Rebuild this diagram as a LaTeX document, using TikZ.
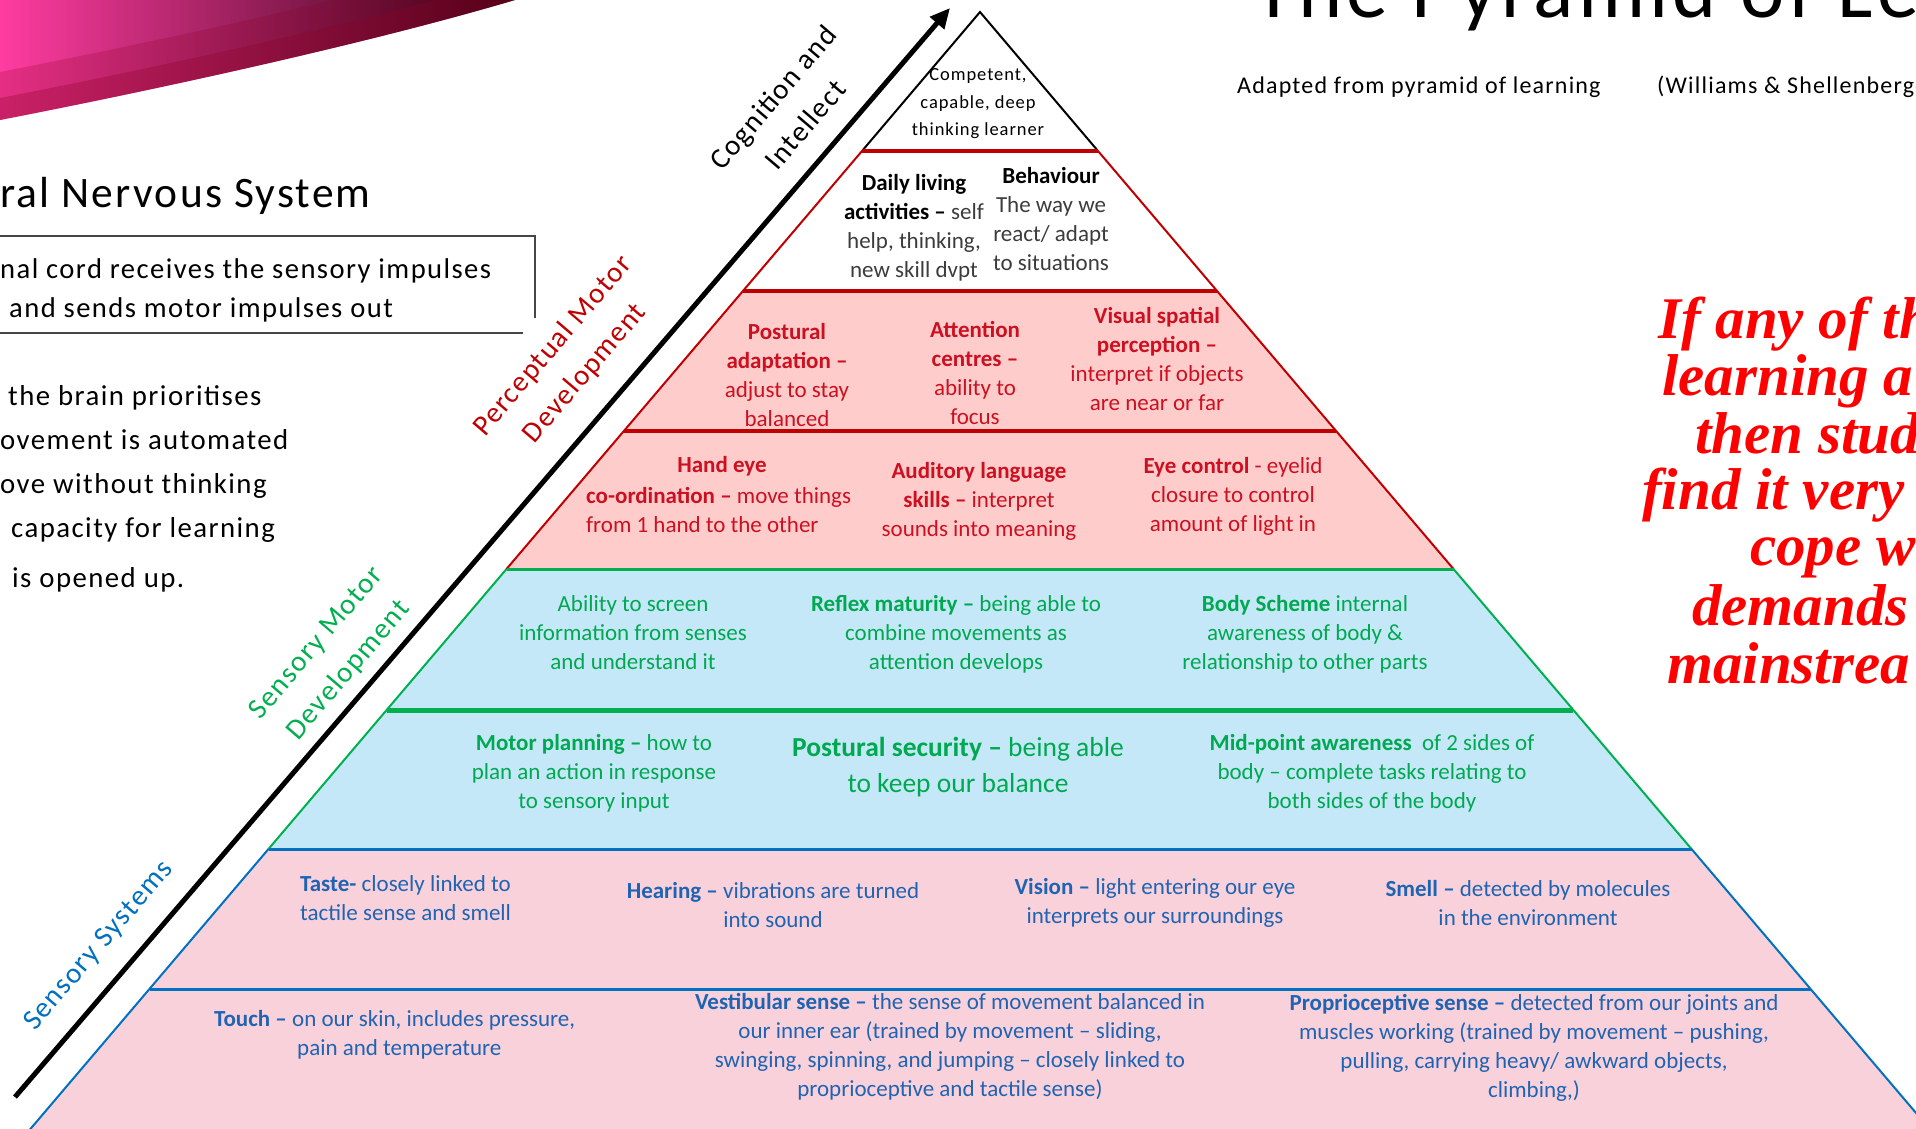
\documentclass[tikz,border=0pt]{standalone}
\usepackage{fontspec}
\setmainfont{Carlito}
\newfontfamily\sas[LetterSpace=5]{Carlito}
\newfontfamily\redserif{Liberation Serif}
\usetikzlibrary{arrows.meta}
\definecolor{tred}{RGB}{192,0,0}
\definecolor{tgreen}{RGB}{0,176,80}
\definecolor{tblue}{RGB}{0,112,192}
\definecolor{pinkA}{RGB}{255,204,204}
\definecolor{blueA}{RGB}{197,232,248}
\definecolor{pinkB}{RGB}{249,209,219}
\definecolor{txred}{RGB}{204,16,32}
\definecolor{txgreen}{RGB}{0,168,80}
\definecolor{txblue}{RGB}{31,100,178}
\definecolor{txgray}{RGB}{60,60,60}
\definecolor{swA}{RGB}{255,60,160}
\definecolor{swB}{RGB}{230,0,115}
\definecolor{swC}{RGB}{40,0,15}
\definecolor{swD}{RGB}{140,0,35}
\definecolor{boxgray}{RGB}{70,70,70}
\definecolor{alarm}{RGB}{255,0,0}
\newcommand{\hb}[1]{\textbf{#1}}
\begin{document}
\begin{tikzpicture}[x=1pt,y=-1pt,
  pyrtext/.style={inner sep=0pt, align=center, font=\fontsize{23}{29}\selectfont},
  pyrleft/.style={inner sep=0pt, align=left, anchor=west, font=\fontsize{23}{29}\selectfont},
  sastext/.style={inner sep=0pt, anchor=base west, font=\sas\fontsize{28.8}{44}\selectfont},
  sidelab/.style={inner sep=0pt, align=center, rotate=49.5, font=\sas\fontsize{29}{42}\selectfont},
  redline/.style={inner sep=0pt, anchor=base west, text=alarm, font=\redserif\bfseries\itshape\fontsize{59}{60}\selectfont},
  edge/.style={line width=2pt},
  boxline/.style={boxgray, line width=1.5pt}
]
\path[use as bounding box] (0,0) rectangle (1916,1128);
\clip (0,0) rectangle (1916,1128);
\fill[white] (0,0) rectangle (1916,1128);

% swoosh
\begin{scope}
  \clip (0,-5) -- (520,-5) -- (515,0) .. controls (380,40) and (180,85) .. (0,120) -- cycle;
  \shade[left color=swA, middle color=swB, right color=swC] (0,-5) rectangle (520,125);
  \fill[swD, opacity=0.45] (0,120) .. controls (180,85) and (380,40) .. (515,0) -- (515,-22) .. controls (380,18) and (180,63) .. (0,98) -- cycle;
  \fill[swD, opacity=0.22] (0,98) .. controls (180,63) and (380,18) .. (515,-22) -- (515,-48) .. controls (380,-8) and (180,37) .. (0,72) -- cycle;
\end{scope}

% pyramid corners
\coordinate (A) at (980,12);
\coordinate (L1) at (862,151);   \coordinate (R1) at (1098,151);
\coordinate (L2) at (743,291);   \coordinate (R2) at (1217,291);
\coordinate (L3) at (624,431);   \coordinate (R3) at (1336,431);
\coordinate (L4) at (506.5,569); \coordinate (R4) at (1453.5,569);
\coordinate (L5) at (386.7,710); \coordinate (R5) at (1573.3,710);
\coordinate (L6) at (268.5,849); \coordinate (R6) at (1691.5,849);
\coordinate (L7) at (149.5,989); \coordinate (R7) at (1810.5,989);
\coordinate (L8) at (21,1140);   \coordinate (R8) at (1939,1140);

\fill[pinkA] (L2) -- (R2) -- (R4) -- (L4) -- cycle;
\fill[blueA] (L4) -- (R4) -- (R6) -- (L6) -- cycle;
\fill[pinkB] (L6) -- (R6) -- (R8) -- (L8) -- cycle;

\draw[edge, black] (L1) -- (A) -- (R1);
\draw[edge, tred] (L1) -- (L4) (R1) -- (R4);
\draw[edge, tgreen] (L4) -- (L6) (R4) -- (R6);
\draw[edge, tblue] (L6) -- (L8) (R6) -- (R8);
\draw[tred, line width=4pt] (L1) -- (R1) (L2) -- (R2);
\draw[tred, line width=3.5pt] (L3) -- (R3);
\draw[tgreen, line width=3pt] (L4) -- (R4);
\draw[tgreen, line width=5pt] (L5) -- (R5);
\draw[tblue, line width=3pt] (L6) -- (R6) (L7) -- (R7);

% arrow
\coordinate (arrS) at (15,1097);
\coordinate (arrT) at (950,8);
\draw[line width=5pt, -{Triangle[length=20pt,width=18pt]}] (arrS) -- (arrT);

% side labels
\node[sidelab, text=black] (cog) at (789,111) {Cognition and\\Intellect};
\node[sidelab, text=tred] (pmd) at (569,360) {Perceptual Motor\\Development};
\node[sidelab, text=tgreen] (smd) at (333,657) {Sensory Motor\\Development};
\node[sidelab, text=tblue] (ssy) at (99,946) {Sensory Systems};

% tier 1
\node[inner sep=0pt, align=center, font=\sas\fontsize{18.5}{27.5}\selectfont] (t1) at (978,104) {Competent,\\capable, deep\\thinking learner};

% tier 2
\node[pyrtext, text=txgray] (t2a) at (914,228) {{\color{black}\hb{Daily living}}\\{\color{black}\hb{activities –}} self\\help, thinking,\\new skill dvpt};
\node[pyrtext, text=txgray] (t2b) at (1051,219) {{\color{black}\hb{Behaviour}}\\The way we\\react/ adapt\\to situations};

% tier 3
\node[pyrtext, text=txred] (t3a) at (787,375) {\hb{Postural}\\\hb{adaptation –}\\adjust to stay\\balanced};
\node[pyrtext, text=txred] (t3b) at (975,373) {\hb{Attention}\\\hb{centres –}\\ability to\\focus};
\node[pyrtext, text=txred] (t3c) at (1157,359) {\hb{Visual spatial}\\\hb{perception –}\\interpret if objects\\are near or far};

% tier 4
\node[pyrtext, text=txred] (t4a) at (722,466) {\hb{Hand eye}};
\node[pyrleft, text=txred] (t4b) at (586,509.5) {\hb{co-ordination –} move things\\from 1 hand to the other};
\node[pyrtext, text=txred] (t4c) at (979,501) {\hb{Auditory language}\\\hb{skills –} interpret\\sounds into meaning};
\node[pyrtext, text=txred] (t4d) at (1233,496) {\hb{Eye control} - eyelid\\closure to control\\amount of light in};

% tier 5
\node[pyrtext, text=txgreen] (t5a) at (633,633) {Ability to screen\\information from senses\\and understand it};
\node[pyrtext, text=txgreen] (t5b) at (956,634) {\hb{Reflex maturity –} being able to\\combine movements as\\attention develops};
\node[pyrtext, text=txgreen] (t5c) at (1305,634) {\hb{Body Scheme} internal\\awareness of body \&\\relationship to other parts};

% tier 6
\node[pyrtext, text=txgreen] (t6a) at (594,773) {\hb{Motor planning –} how to\\plan an action in response\\to sensory input};
\node[pyrtext, text=txgreen, font=\fontsize{27.5}{36}\selectfont] (t6b) at (958,767) {\hb{Postural security –} being able\\to keep our balance};
\node[pyrtext, text=txgreen] (t6c) at (1372,773) {\hb{Mid-point awareness}\ \ of 2 sides of\\body – complete tasks relating to\\both sides of the body};

% tier 7
\node[pyrleft, text=txblue] (t7a) at (300,898) {\hb{Taste-} closely linked to\\tactile sense and smell};
\node[pyrtext, text=txblue] (t7b) at (773,904.5) {\hb{Hearing –} vibrations are turned\\into sound};
\node[pyrtext, text=txblue] (t7c) at (1155,903) {\hb{Vision –} light entering our eye\\interprets our surroundings};
\node[pyrtext, text=txblue] (t7d) at (1528,903) {\hb{Smell –} detected by molecules\\in the environment};

% tier 8
\node[pyrleft, text=txblue] (t8a) at (214,1020) {\hb{Touch –} on our skin, includes pressure,};
\node[pyrleft, text=txblue] (t8b) at (297,1049) {pain and temperature};
\node[pyrtext, text=txblue] (t8c) at (950,1047) {\hb{Vestibular sense –} the sense of movement balanced in\\our inner ear (trained by movement – sliding,\\swinging, spinning, and jumping – closely linked to\\proprioceptive and tactile sense)};
\node[pyrtext, text=txblue] (t8d) at (1534,1048) {\hb{Proprioceptive sense –} detected from our joints and\\muscles working (trained by movement – pushing,\\pulling, carrying heavy/ awkward objects,\\climbing,)};

% left texts
\node[sastext, font=\sas\fontsize{43.5}{50}\selectfont] (cns) at (0,207) {ral Nervous System};
\coordinate (bx1) at (0,236); \coordinate (bx2) at (535,236); \coordinate (bx3) at (535,318);
\coordinate (bx4) at (0,333); \coordinate (bx5) at (523,333);
\draw[boxline] (bx1) -- (bx2) -- (bx3);
\draw[boxline] (bx4) -- (bx5);
\node[sastext, font=\sas\fontsize{28.6}{44}\selectfont] (bt1) at (0,278) {nal cord receives the sensory impulses};
\node[sastext, font=\sas\fontsize{28.6}{44}\selectfont] (bt2) at (9,317) {and sends motor impulses out};
\node[sastext] (p1) at (8,405) {the brain prioritises};
\node[sastext] (p2) at (0,449) {ovement is automated};
\node[sastext] (p3) at (0,493) {ove without thinking};
\node[sastext] (p4) at (11,537) {capacity for learning};
\node[sastext] (p5) at (12,587) {is opened up.};

% title and source
\node[sastext, font=\sas\fontsize{84}{90}\selectfont] (ttl) at (1253,17) {The Pyramid of Le};
\node[sastext, font=\sas\fontsize{24}{28}\selectfont] (src1) at (1237,93) {Adapted from pyramid of learning};
\node[sastext, font=\sas\fontsize{24}{28}\selectfont] (src2) at (1657,93) {(Williams \& Shellenberge};

% red message
\node[redline] (r1) at (1658,338) {If any of th};
\node[redline] (r2) at (1662,395) {learning a};
\node[redline] (r3) at (1695,453) {then stud};
\node[redline] (r4) at (1642,509) {find it very};
\node[redline] (r5) at (1750,565) {cope w};
\node[redline] (r6) at (1692,625) {demands};
\node[redline] (r7) at (1667,683) {mainstrea};
\end{tikzpicture}
\end{document}
